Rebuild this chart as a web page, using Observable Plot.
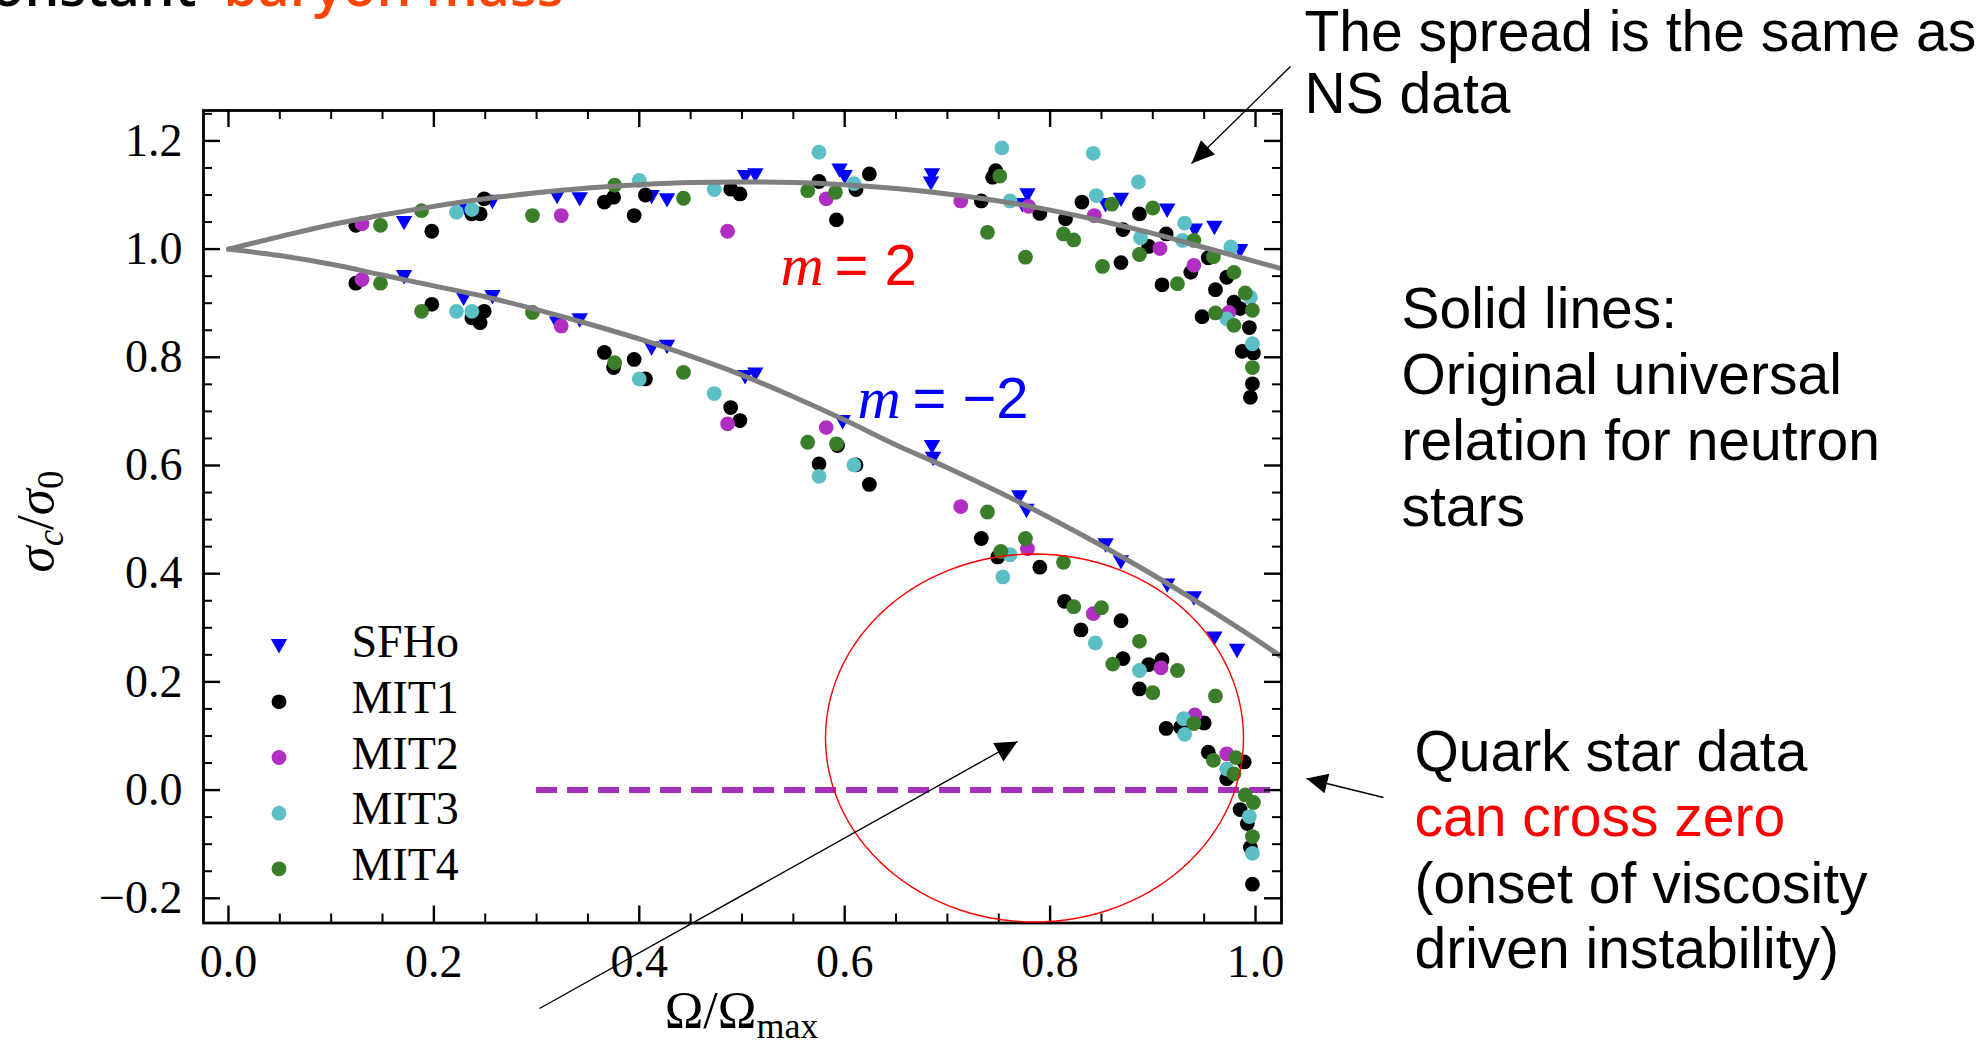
<!DOCTYPE html>
<html><head><meta charset="utf-8">
<script src="https://cdn.jsdelivr.net/npm/d3@7"></script>
<script src="https://cdn.jsdelivr.net/npm/@observablehq/plot@0.6"></script>
<style>
html,body{margin:0;padding:0;background:#fff;}
#chart{width:1981px;height:1048px;overflow:hidden;}
</style></head><body><div id="chart"></div>
<script>
// ---------------- data ----------------
const seriesNames = ["SFHo", "MIT1", "MIT2", "MIT3", "MIT4"];
const seriesColors = ["#0000ff", "#000000", "#b02fc2", "#5bbfc5", "#3a7e2a"];

const SFHo = [
[0.171,1.048],[0.232,1.070],[0.257,1.087],[0.320,1.096],[0.342,1.092],[0.412,1.096],[0.427,1.090],[0.503,1.133],[0.513,1.136],[0.595,1.145],[0.600,1.133],[0.685,1.136],[0.684,1.121],[0.778,1.099],[0.773,1.081],[0.854,1.081],[0.869,1.091],[0.914,1.071],[0.941,1.034],[0.960,1.039],[0.985,0.996],
[0.171,0.948],[0.229,0.908],[0.257,0.911],[0.320,0.862],[0.342,0.868],[0.412,0.816],[0.427,0.819],[0.503,0.763],[0.513,0.768],[0.598,0.680],[0.685,0.634],[0.686,0.612],[0.770,0.541],[0.777,0.516],[0.854,0.452],[0.869,0.421],[0.914,0.378],[0.940,0.354],[0.960,0.280],[0.982,0.257]
];
const MIT1 = [
[0.124,1.044],[0.198,1.033],[0.237,1.065],[0.245,1.065],[0.249,1.093],[0.366,1.087],[0.375,1.096],[0.395,1.062],[0.406,1.100],[0.489,1.111],[0.498,1.102],[0.575,1.125],[0.611,1.110],[0.624,1.139],[0.592,1.054],[0.733,1.089],[0.747,1.145],[0.744,1.133],[0.790,1.066],[0.815,1.056],[0.831,1.087],[0.869,0.975],[0.871,1.036],[0.887,1.065],[0.896,1.005],[0.909,0.934],[0.913,1.028],[0.937,0.957],[0.948,0.875],[0.954,0.984],[0.961,0.925],[0.972,0.948],[0.979,0.902],[0.985,0.890],[0.994,0.855],[0.987,0.811],[0.998,0.808],[0.997,0.751],[0.995,0.726],
[0.124,0.937],[0.198,0.898],[0.237,0.873],[0.245,0.864],[0.249,0.885],[0.366,0.809],[0.375,0.781],[0.395,0.796],[0.406,0.760],[0.489,0.707],[0.498,0.683],[0.575,0.603],[0.593,0.637],[0.611,0.601],[0.624,0.565],[0.733,0.465],[0.749,0.431],[0.790,0.412],[0.814,0.349],[0.830,0.296],[0.869,0.313],[0.871,0.243],[0.887,0.187],[0.896,0.232],[0.909,0.241],[0.913,0.114],[0.927,0.116],[0.950,0.124],[0.954,0.070],[0.989,0.052],[0.972,0.021],[0.985,-0.036],[0.992,-0.062],[0.995,-0.106],[0.997,-0.174]
];
const MIT2 = [
[0.130,1.047],[0.324,1.062],[0.486,1.033],[0.582,1.093],[0.713,1.089],[0.779,1.079],[0.843,1.062],[0.907,1.001],[0.940,0.970],[0.974,0.883],
[0.130,0.944],[0.324,0.858],[0.486,0.677],[0.582,0.670],[0.713,0.524],[0.778,0.446],[0.842,0.326],[0.908,0.226],[0.941,0.139],[0.972,0.067]
];
const MIT3 = [
[0.222,1.068],[0.237,1.073],[0.400,1.127],[0.473,1.110],[0.575,1.179],[0.609,1.121],[0.753,1.187],[0.761,1.089],[0.842,1.177],[0.845,1.099],[0.886,1.124],[0.888,1.021],[0.931,1.048],[0.929,1.016],[0.976,1.004],[0.972,0.871],[0.995,0.911],[0.997,0.825],
[0.222,0.885],[0.237,0.885],[0.400,0.760],[0.473,0.733],[0.575,0.580],[0.609,0.601],[0.761,0.435],[0.754,0.394],[0.844,0.272],[0.887,0.221],[0.930,0.132],[0.931,0.103],[0.972,0.039],[0.994,-0.049],[0.997,-0.117]
];
const MIT4 = [
[0.148,1.044],[0.188,1.071],[0.296,1.062],[0.376,1.118],[0.443,1.094],[0.564,1.108],[0.591,1.105],[0.751,1.135],[0.739,1.031],[0.776,0.985],[0.813,1.028],[0.823,1.017],[0.860,1.083],[0.851,0.968],[0.887,0.990],[0.900,1.076],[0.924,0.936],[0.940,1.016],[0.959,0.986],[0.961,0.882],[0.979,0.957],[0.979,0.859],[0.990,0.919],[0.997,0.887],[0.997,0.781],
[0.148,0.937],[0.188,0.885],[0.296,0.883],[0.376,0.790],[0.443,0.772],[0.564,0.643],[0.592,0.640],[0.739,0.514],[0.776,0.465],[0.752,0.441],[0.813,0.421],[0.823,0.339],[0.850,0.337],[0.861,0.233],[0.887,0.275],[0.900,0.180],[0.924,0.221],[0.961,0.174],[0.940,0.123],[0.959,0.055],[0.981,0.060],[0.979,0.030],[0.990,-0.009],[0.998,-0.023],[0.997,-0.086]
];

// universal relation curves
const curveX      = [0, 0.05, 0.1, 0.15, 0.2, 0.25, 0.3, 0.35, 0.4, 0.45, 0.5, 0.55, 0.6, 0.65, 0.7, 0.75, 0.8, 0.85, 0.9, 0.95, 1.0, 1.025];
const curveUpperY = [1.0, 1.023, 1.045, 1.063, 1.079, 1.093, 1.104, 1.113, 1.119, 1.123, 1.124, 1.123, 1.119, 1.112, 1.102, 1.089, 1.072, 1.052, 1.029, 1.003, 0.977, 0.964];
const curveLowerY = [1.0, 0.988, 0.972, 0.952, 0.932, 0.912, 0.888, 0.862, 0.834, 0.802, 0.767, 0.727, 0.684, 0.638, 0.596, 0.551, 0.503, 0.452, 0.398, 0.340, 0.279, 0.247];

const zeroLineFrom = 0.3;

const xMajor = [0, 0.2, 0.4, 0.6, 0.8, 1.0];
const xMinor = [0.05,0.1,0.15,0.25,0.3,0.35,0.45,0.5,0.55,0.65,0.7,0.75,0.85,0.9,0.95];
const yMajor = [-0.2, 0, 0.2, 0.4, 0.6, 0.8, 1.0, 1.2];
const yMinor = [-0.15,-0.1,-0.05,0.05,0.1,0.15,0.25,0.3,0.35,0.45,0.5,0.55,0.65,0.7,0.75,0.85,0.9,0.95,1.05,1.1,1.15,1.25];

// ---------------- layout ----------------
const W = 1981, H = 1048, ML = 203, MR = 700, MT = 110, MB = 125.5;
const XD = [-0.0243, 1.0253], YD = [-0.2457, 1.2562];
const PW = W - ML - MR, PH = H - MT - MB;
const px2x = px => XD[0] + (px - ML) / PW * (XD[1] - XD[0]);
const px2y = py => YD[0] + (H - MB - py) / PH * (YD[1] - YD[0]);
const fmt = d3.format(".1f");

// downward triangle marker, fixed pixel size (about 16 x 14 px)
const triDown = {draw(ctx) {
  const a = 8.2, h = 7.2;
  ctx.moveTo(-a, -h); ctx.lineTo(a, -h); ctx.lineTo(0, h); ctx.closePath();
}};
const R = 7.4;
const allSeries = [SFHo, MIT1, MIT2, MIT3, MIT4];

const curves = curveX.flatMap((x, i) => [
  {x, y: curveUpperY[i], k: "up"}, {x, y: curveLowerY[i], k: "low"}
]);

// annotation texts (pixel layout)
const SANS = "Liberation Sans";
const notes = [
  {t: "The spread is the same as", px: 1304, py: 50, c: "#000"},
  {t: "NS data", px: 1304, py: 112, c: "#000"},
  {t: "Solid lines:", px: 1401, py: 327, c: "#000"},
  {t: "Original universal", px: 1401, py: 393, c: "#000"},
  {t: "relation for neutron", px: 1401, py: 459, c: "#000"},
  {t: "stars", px: 1401, py: 525, c: "#000"},
  {t: "Quark star data", px: 1414, py: 770, c: "#000"},
  {t: "can cross zero", px: 1414, py: 835, c: "#ff0000"},
  {t: "(onset of viscosity", px: 1414, py: 902, c: "#000"},
  {t: "driven instability)", px: 1414, py: 967, c: "#000"}
];
const arrows = [
  {id: 0, tail: [1290, 66], tip: [1191, 163], L: 23, w: 10},
  {id: 1, tail: [539, 1008], tip: [1017, 741], L: 22, w: 10.5},
  {id: 2, tail: [1383, 797], tip: [1306, 778], L: 21, w: 10}
];
const heads = arrows.flatMap(a => {
  let dx = a.tip[0] - a.tail[0], dy = a.tip[1] - a.tail[1];
  const n = Math.hypot(dx, dy); dx /= n; dy /= n;
  const bx = a.tip[0] - a.L * dx, by = a.tip[1] - a.L * dy;
  return [[a.tip[0], a.tip[1]], [bx - a.w * dy, by + a.w * dx], [bx + a.w * dy, by - a.w * dx]]
    .map(p => ({id: a.id, x: px2x(p[0]), y: px2y(p[1])}));
});
const ellipse = d3.range(0, 361, 3).map(a => {
  const t = a * Math.PI / 180;
  return {x: px2x(1034 + 209 * Math.cos(t)), y: px2y(737.5 + 184 * Math.sin(t))};
});
const P = (t, px, py) => ({t, x: px2x(px), y: px2y(py)});

const marks = [
  Plot.ruleY([0], {x1: zeroLineFrom, x2: XD[1], stroke: "#a62fc0", strokeWidth: 6, strokeDasharray: "21,10"}),
  ...allSeries.map((s, i) => Plot.dot(s, {x: d => d[0], y: d => d[1], r: R, fill: seriesColors[i], stroke: "none",
      symbol: i === 0 ? triDown : "circle"})),
  Plot.line(curves, {x: "x", y: "y", z: "k", stroke: "#7f7f7f", strokeWidth: 5, curve: "monotone-x", clip: true}),
  // frame + inward ticks
  Plot.frame({stroke: "#000", strokeWidth: 2.8}),
  Plot.tickX(xMajor, {x: d => d, insetTop: PH - 17, strokeWidth: 2.4}),
  Plot.tickX(xMajor, {x: d => d, insetBottom: PH - 17, strokeWidth: 2.4}),
  Plot.tickX(xMinor, {x: d => d, insetTop: PH - 9, strokeWidth: 2}),
  Plot.tickX(xMinor, {x: d => d, insetBottom: PH - 9, strokeWidth: 2}),
  Plot.tickY(yMajor, {y: d => d, insetRight: PW - 17, strokeWidth: 2.4}),
  Plot.tickY(yMajor, {y: d => d, insetLeft: PW - 17, strokeWidth: 2.4}),
  Plot.tickY(yMinor, {y: d => d, insetRight: PW - 9, strokeWidth: 2}),
  Plot.tickY(yMinor, {y: d => d, insetLeft: PW - 9, strokeWidth: 2}),
  // tick labels
  Plot.text(xMajor, {x: d => d, frameAnchor: "bottom", dy: 54, text: d => fmt(d), lineAnchor: "bottom", textAnchor: "middle", fontSize: 46}),
  Plot.text(yMajor, {y: d => d, frameAnchor: "left", dx: -21, text: d => fmt(d), lineAnchor: "middle", textAnchor: "end", fontSize: 46}),
  // axis labels
  Plot.text([P("XLABEL", 741, 1027)], {x: "x", y: "y", text: "t", lineAnchor: "bottom", textAnchor: "middle", fontSize: 52}),
  Plot.text([P("YLABEL", 36, 521)], {x: "x", y: "y", text: "t", rotate: -90, lineAnchor: "middle", textAnchor: "middle", fontSize: 53}),
  // legend
  ...seriesNames.map((n, i) => Plot.dot([P(n, 278.5, 645.7 + i * 55.65)], {x: "x", y: "y", r: R, fill: seriesColors[i], stroke: "none",
      symbol: i === 0 ? triDown : "circle"})),
  Plot.text(seriesNames.map((n, i) => P(n, 351, 656.7 + i * 55.65)), {x: "x", y: "y", text: "t", lineAnchor: "bottom", textAnchor: "start", fontSize: 46}),
  // m labels
  Plot.text([P("m", 780, 284)], {x: "x", y: "y", text: "t", fill: "#ff0000", fontFamily: "Liberation Serif", fontStyle: "italic", fontSize: 60, lineAnchor: "bottom", textAnchor: "start"}),
  Plot.text([P("= 2", 834, 284)], {x: "x", y: "y", text: "t", fill: "#ff0000", fontFamily: SANS, fontSize: 58, lineAnchor: "bottom", textAnchor: "start"}),
  Plot.text([P("m", 857, 417)], {x: "x", y: "y", text: "t", fill: "#0000ff", fontFamily: "Liberation Serif", fontStyle: "italic", fontSize: 60, lineAnchor: "bottom", textAnchor: "start"}),
  Plot.text([P("= \u22122", 912, 417)], {x: "x", y: "y", text: "t", fill: "#0000ff", fontFamily: SANS, fontSize: 58, lineAnchor: "bottom", textAnchor: "start"}),
  // title remnant (cut off at the top edge, as in the source slide)
  Plot.text([P("constant", 196, 5)], {x: "x", y: "y", text: "t", fill: "#000", fontFamily: "Open Sans", fontWeight: 600, fontSize: 55, lineAnchor: "bottom", textAnchor: "end"}),
  Plot.text([P("baryon mass", 223, 5)], {x: "x", y: "y", text: "t", fill: "#ff4500", fontFamily: "Open Sans", fontWeight: 600, fontSize: 55, lineAnchor: "bottom", textAnchor: "start"}),
  // annotation texts
  Plot.text(notes.map(n => ({...P(n.t, n.px, n.py), c: n.c})), {x: "x", y: "y", text: "t", fill: "c", fontFamily: SANS, fontSize: 57, lineAnchor: "bottom", textAnchor: "start"}),
  // red ellipse
  Plot.line(ellipse, {x: "x", y: "y", stroke: "#ff0000", strokeWidth: 1.4, curve: "linear-closed"}),
  // arrows
  Plot.link(arrows, {x1: a => px2x(a.tail[0]), y1: a => px2y(a.tail[1]), x2: a => px2x(a.tip[0]), y2: a => px2y(a.tip[1]), stroke: "#000", strokeWidth: 1.4}),
  Plot.line(heads, {x: "x", y: "y", z: "id", fill: "#000", stroke: "none", curve: "linear-closed"})
];

const svg = Plot.plot({
  width: W, height: H,
  marginLeft: ML, marginRight: MR, marginTop: MT, marginBottom: MB,
  style: {fontFamily: "Liberation Serif", fontSize: "46px", background: "#fff", color: "#000", overflow: "visible"},
  x: {domain: XD, axis: null},
  y: {domain: YD, axis: null},
  color: {type: "identity"},
  marks
});

function rich(key, parts) {
  svg.querySelectorAll("text").forEach(t => {
    if (t.textContent !== key) return;
    t.textContent = "";
    for (const [s, attrs] of parts) {
      const ts = document.createElementNS("http://www.w3.org/2000/svg", "tspan");
      ts.textContent = s;
      for (const k in (attrs || {})) ts.setAttribute(k, attrs[k]);
      t.appendChild(ts);
    }
  });
}
rich("YLABEL", [
  ["\u03c3", {"font-style": "italic"}],
  ["c", {"font-style": "italic", "font-size": "37px", dy: "10"}],
  ["/", {dy: "-10"}],
  ["\u03c3", {"font-style": "italic"}],
  ["0", {"font-size": "37px", dy: "10"}]
]);
rich("XLABEL", [
  ["\u03a9/\u03a9", {}],
  ["max", {"font-size": "36px", dy: "10"}]
]);

document.getElementById("chart").appendChild(svg);
</script>
</body></html>
